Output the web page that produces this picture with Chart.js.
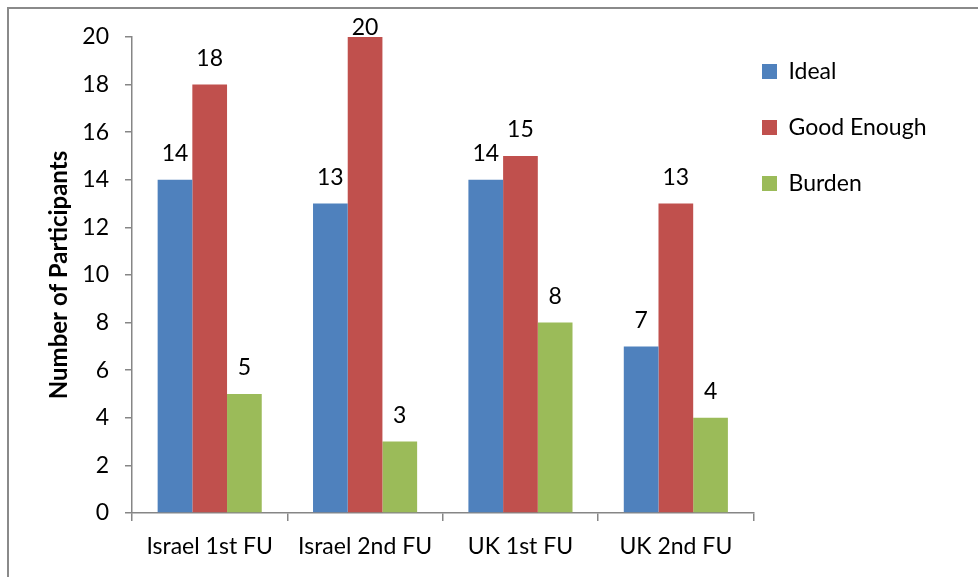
<!DOCTYPE html>
<html>
<head>
<meta charset="utf-8">
<script src="https://cdn.jsdelivr.net/npm/chart.js@4"></script>
<style>
  body { margin: 0; background: #fff; }
  #wrap { position: relative; width: 978px; height: 577px; overflow: hidden; }
  #frame { position: absolute; left: 7px; top: 7px; width: 1000px; height: 600px; border: 2px solid #8a8a8a; box-sizing: border-box; }
  #chart { position: absolute; left: 0; top: 0; }
</style>
</head>
<body>
<div id="wrap">
  <div id="frame"></div>
  <canvas id="chart" width="978" height="577"></canvas>
</div>
<script>
const categories = ['Israel 1st FU', 'Israel 2nd FU', 'UK 1st FU', 'UK 2nd FU'];
const idealValues = [14, 13, 14, 7];
const goodEnoughValues = [18, 20, 15, 13];
const burdenValues = [5, 3, 8, 4];
const yTicks = [0, 2, 4, 6, 8, 10, 12, 14, 16, 18, 20];

const FONT = 'Lato, Calibri, sans-serif';
const FONT_SIZE = 23;
const AXIS_COLOR = '#868686';

// value labels above each bar (kept inside the frame when the bar hits the top)
const valueLabels = {
  id: 'valueLabels',
  afterDatasetsDraw(chart) {
    const ctx = chart.ctx;
    const minY = chart.chartArea.top - 9;
    ctx.save();
    ctx.font = FONT_SIZE + 'px ' + FONT;
    ctx.fillStyle = '#000';
    ctx.textAlign = 'center';
    ctx.textBaseline = 'middle';
    chart.data.datasets.forEach((ds, i) => {
      chart.getDatasetMeta(i).data.forEach((bar, j) => {
        ctx.fillText(ds.data[j], bar.x, Math.max(bar.y - 26, minY));
      });
    });
    ctx.restore();
  }
};

// nudge the legend to sit near the top right like the original
const legendPlace = {
  id: 'legendPlace',
  beforeDraw(chart) {
    const lg = chart.legend;
    lg.top = 27;
    lg.left = 729;
  }
};

new Chart(document.getElementById('chart'), {
  type: 'bar',
  data: {
    labels: categories,
    datasets: [
      { label: 'Ideal', data: idealValues, backgroundColor: '#4F81BD' },
      { label: 'Good Enough', data: goodEnoughValues, backgroundColor: '#C0504D' },
      { label: 'Burden', data: burdenValues, backgroundColor: '#9BBB59' }
    ]
  },
  options: {
    responsive: false,
    animation: false,
    layout: { padding: { left: 0, top: 37, right: 17, bottom: 0 } },
    datasets: {
      bar: { categoryPercentage: 0.67, barPercentage: 1.0 }
    },
    scales: {
      x: {
        afterFit(scale) {
          scale.height = 64;
        },
        grid: { display: true, drawOnChartArea: false, offset: true, tickLength: 8, color: AXIS_COLOR, lineWidth: 1.5 },
        border: { color: AXIS_COLOR, width: 1.5 },
        ticks: { color: '#000', font: { family: FONT, size: FONT_SIZE }, padding: 12, maxRotation: 0 }
      },
      y: {
        min: 0,
        max: 20,
        afterBuildTicks(scale) {
          scale.ticks = yTicks.map(v => ({ value: v }));
        },
        afterFit(scale) {
          scale.width = 132;
        },
        grid: { display: true, drawOnChartArea: false, tickLength: 7, color: AXIS_COLOR, lineWidth: 1.5 },
        border: { color: AXIS_COLOR, width: 1.5 },
        ticks: { color: '#000', font: { family: FONT, size: FONT_SIZE }, padding: 16 },
        title: {
          display: true,
          text: 'Number of Participants',
          color: '#000',
          font: { family: FONT, size: 24, weight: 'bold' },
          padding: { top: 45, bottom: 0 }
        }
      }
    },
    plugins: {
      legend: {
        position: 'right',
        align: 'start',
        labels: {
          color: '#000',
          font: { family: FONT, size: FONT_SIZE },
          boxWidth: 15,
          boxHeight: 15,
          padding: 33
        }
      },
      tooltip: { enabled: false }
    }
  },
  plugins: [valueLabels, legendPlace]
});
</script>
</body>
</html>
